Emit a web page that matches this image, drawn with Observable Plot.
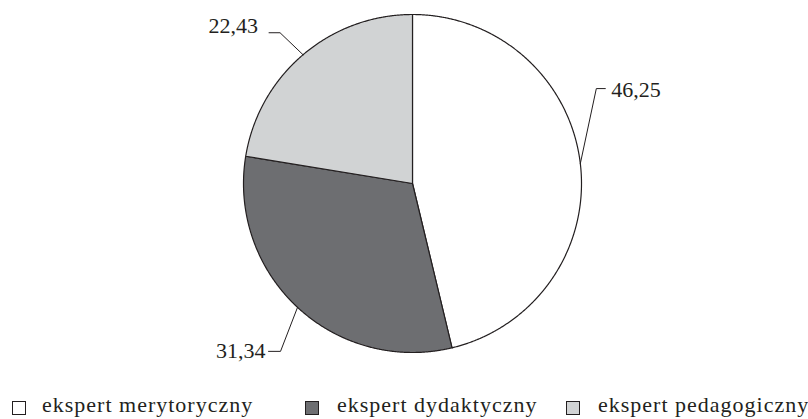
<!DOCTYPE html>
<html>
<head>
<meta charset="utf-8">
<script src="https://cdn.jsdelivr.net/npm/d3@7"></script>
<script src="https://cdn.jsdelivr.net/npm/@observablehq/plot@0.6"></script>
<style>
  body { margin: 0; background: #fff; font-family: "Liberation Serif", "DejaVu Serif", serif; }
  #chart svg { display: block; }
  #legend { position: relative; width: 808px; height: 29px; font-size: 22px; color: #231f20; }
  .sw { position: absolute; top: 11px; width: 12px; height: 12px; border: 1px solid #231f20; box-sizing: content-box; }
  .lab { position: absolute; top: 0px; line-height: 29px; white-space: nowrap; letter-spacing: 1px; }
</style>
</head>
<body>
<div id="chart"></div>
<div id="legend"></div>
<script>
// ---- data ----
const categories = ["ekspert merytoryczny", "ekspert dydaktyczny", "ekspert pedagogiczny"];
const values = [46.25, 31.34, 22.43];
const valueLabels = ["46,25", "31,34", "22,43"];
const colors = ["#ffffff", "#6d6e71", "#d1d3d4"];

// ---- layout (pixels) ----
const W = 808, H = 390;
const cx = 412, cy = 183, R = 169;
// leader elbows relative to slice-mid arc point, horizontal tail length, text offsets
const leaderLayout = [
  {ex: 16, ey: -75, tail: 9, dx: 6, dy: 1},
  {ex: -17, ey: 44, tail: -12, dx: -3, dy: 0},
  {ex: -23, ey: -22, tail: -11, dx: -11, dy: -7}
];
const legendLayout = [{sw: 12, tx: 42}, {sw: 305, tx: 337}, {sw: 566, tx: 598}];

// ---- pie geometry from data (unit radius, clockwise from top) ----
const pie = d3.pie().sort(null).value(d => d)(values);
const polys = [];
pie.forEach((s, i) => {
  polys.push({cat: categories[i], x: 0, y: 0});
  const n = Math.max(2, Math.ceil((s.endAngle - s.startAngle) / 0.005));
  for (let k = 0; k <= n; k++) {
    const a = s.startAngle + (s.endAngle - s.startAngle) * k / n;
    polys.push({cat: categories[i], x: Math.sin(a), y: Math.cos(a)});
  }
});

const leaders = [];
const texts = [];
pie.forEach((s, i) => {
  const a = (s.startAngle + s.endAngle) / 2;
  const L = leaderLayout[i];
  const p0 = {x: Math.sin(a), y: Math.cos(a)};
  const p1 = {x: p0.x + L.ex / R, y: p0.y - L.ey / R};
  const p2 = {x: p1.x + L.tail / R, y: p1.y};
  leaders.push({k: i, ...p0}, {k: i, ...p1}, {k: i, ...p2});
  texts.push({label: valueLabels[i], x: p2.x, y: p2.y, anchor: L.tail > 0 ? "start" : "end", dx: L.dx, dy: L.dy});
});

const plot = Plot.plot({
  width: W, height: H,
  margin: 0,
  x: {type: "linear", domain: [-cx / R, (W - cx) / R], range: [0, W], axis: null},
  y: {type: "linear", domain: [-(H - cy) / R, cy / R], range: [H, 0], axis: null},
  color: {domain: categories, range: colors},
  style: {fontFamily: "'Liberation Serif', 'DejaVu Serif', serif", background: "#fff"},
  marks: [
    Plot.line(polys, {x: "x", y: "y", z: "cat", fill: "cat", stroke: "#231f20", strokeWidth: 1.2, curve: "linear-closed", strokeLinejoin: "round"}),
    Plot.line(leaders, {x: "x", y: "y", z: "k", stroke: "#231f20", strokeWidth: 1}),
    ...texts.map(t => Plot.text([t], {x: "x", y: "y", text: "label", textAnchor: t.anchor, dx: t.dx, dy: t.dy, fontSize: 22, fill: "#231f20"}))
  ]
});
document.getElementById("chart").appendChild(plot);

// ---- legend ----
const leg = document.getElementById("legend");
categories.forEach((c, i) => {
  const sw = document.createElement("div");
  sw.className = "sw";
  sw.style.left = legendLayout[i].sw + "px";
  sw.style.background = colors[i];
  leg.appendChild(sw);
  const t = document.createElement("div");
  t.className = "lab";
  t.style.left = legendLayout[i].tx + "px";
  t.textContent = c;
  leg.appendChild(t);
});
</script>
</body>
</html>
